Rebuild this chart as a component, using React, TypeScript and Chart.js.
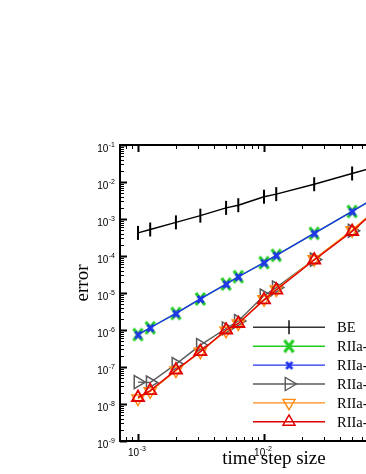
import React, { useEffect, useRef } from "react";
import { Chart, registerables } from "chart.js";
import { drawPoint } from "chart.js/helpers";

Chart.register(...registerables);

// ---- data ----
const stepSizes = [0.001, 0.00125, 0.002, 0.003125, 0.005, 0.00625, 0.01, 0.0125, 0.025, 0.05, 0.1];
const beErr = [4.2e-4, 5.2e-4, 8.1e-4, 1.23e-3, 2.0e-3, 2.36e-3, 4.0e-3, 4.7e-3, 8.7e-3, 1.7e-2, 3.3e-2];
const riiaGreenErr = [7.5e-7, 1.15e-6, 2.8e-6, 6.9e-6, 1.74e-5, 2.75e-5, 6.6e-5, 1.04e-4, 4.1e-4, 1.6e-3, 6.4e-3];
const riiaBlueErr = [7.5e-7, 1.15e-6, 2.8e-6, 6.9e-6, 1.74e-5, 2.75e-5, 6.6e-5, 1.04e-4, 4.1e-4, 1.6e-3, 6.4e-3];
const riiaGrayErr = [3.9e-8, 3.8e-8, 1.2e-7, 3.9e-7, 1.1e-6, 1.75e-6, 8.5e-6, 1.4e-5, 8.0e-5, 4.8e-4, 3.6e-3];
const riiaOrangeErr = [1.4e-8, 2.2e-8, 8.0e-8, 2.6e-7, 0.95e-6, 1.5e-6, 6.8e-6, 1.25e-5, 8.2e-5, 5.0e-4, 3.8e-3];
const riiaRedErr = [1.5e-8, 2.3e-8, 8.3e-8, 2.6e-7, 1.0e-6, 1.5e-6, 6.5e-6, 1.2e-5, 7.8e-5, 4.6e-4, 3.8e-3];
const seriesLabels = ["BE", "RIIa-1", "RIIa-2", "RIIa-3", "RIIa-4", "RIIa-5"];
const yTickExponents = [-1, -2, -3, -4, -5, -6, -7, -8, -9];
const xTickExponents = [-3, -2, -1];
const xAxisTitle = "time step size";
const yAxisTitle = "error";

const COLORS = {
  be: "#000000",
  green: "#1fcc1f",
  blue: "#2233ee",
  gray: "#5a5a5a",
  orange: "#ff8a12",
  red: "#e00000",
};

function makeX(w: number, h: number, lw: number, color: string) {
  const c = document.createElement("canvas");
  c.width = w + lw * 2;
  c.height = h + lw * 2;
  const g = c.getContext("2d")!;
  g.strokeStyle = color;
  g.lineWidth = lw;
  g.beginPath();
  g.moveTo(lw, lw);
  g.lineTo(lw + w, lw + h);
  g.moveTo(lw + w, lw);
  g.lineTo(lw, lw + h);
  g.stroke();
  return c;
}

const pts = (ys: number[]) => stepSizes.map((x, i) => ({ x, y: ys[i] }));

export default function App() {
  const ref = useRef<HTMLCanvasElement | null>(null);

  useEffect(() => {
    const canvas = ref.current!;
    const greenX = makeX(9, 12, 3, COLORS.green);
    const blueX = makeX(6, 7, 2.8, COLORS.blue);

    const styles = [
      { color: COLORS.be, pointStyle: "line", rotation: 90, radius: 7, borderWidth: 2 },
      { color: COLORS.green, pointStyle: greenX, rotation: 0, radius: 7, borderWidth: 3 },
      { color: COLORS.blue, pointStyle: blueX, rotation: 0, radius: 5, borderWidth: 3 },
      { color: COLORS.gray, pointStyle: "triangle", rotation: 90, radius: 7.5, borderWidth: 1.5 },
      { color: COLORS.orange, pointStyle: "triangle", rotation: 180, radius: 7, borderWidth: 1.5 },
      { color: COLORS.red, pointStyle: "triangle", rotation: 0, radius: 7, borderWidth: 1.8 },
    ] as any[];
    const series = [beErr, riiaGreenErr, riiaBlueErr, riiaGrayErr, riiaOrangeErr, riiaRedErr];

    const datasets = series.map((s, i) => ({
      label: seriesLabels[i],
      data: pts(s),
      showLine: true,
      borderColor: styles[i].color,
      backgroundColor: "rgba(0,0,0,0)",
      borderWidth: 1.4,
      pointStyle: styles[i].pointStyle,
      pointRotation: styles[i].rotation,
      pointRadius: styles[i].radius,
      pointBorderWidth: styles[i].borderWidth,
      pointBorderColor: styles[i].color,
      pointBackgroundColor: "rgba(0,0,0,0)",
      order: series.length - i,
    }));

    const decor = {
      id: "decor",
      afterDraw(chart: any) {
        const { ctx, chartArea } = chart;
        const { left, right, top, bottom } = chartArea;
        const xs = chart.scales.x;
        const ys = chart.scales.y;
        ctx.save();
        ctx.strokeStyle = "#000";
        // x ticks
        for (let d = -4; d <= 0; d++) {
          for (let k = 1; k <= 9; k++) {
            const v = k * Math.pow(10, d);
            if (v < xs.min * 0.999 || v > xs.max * 1.001) continue;
            const px = Math.round(xs.getPixelForValue(v)) + 0.5;
            const len = k === 1 ? 7 : 4;
            ctx.lineWidth = k === 1 ? 2 : 1;
            ctx.beginPath();
            ctx.moveTo(px, bottom);
            ctx.lineTo(px, bottom - len);
            ctx.moveTo(px, top);
            ctx.lineTo(px, top + len);
            ctx.stroke();
          }
        }
        // y ticks
        for (let d = -10; d <= 0; d++) {
          for (let k = 1; k <= 9; k++) {
            const v = k * Math.pow(10, d);
            if (v < ys.min * 0.999 || v > ys.max * 1.001) continue;
            const py = Math.round(ys.getPixelForValue(v)) + 0.5;
            const len = k === 1 ? 7 : 4;
            ctx.lineWidth = k === 1 ? 2 : 1;
            ctx.beginPath();
            ctx.moveTo(left, py);
            ctx.lineTo(left + len, py);
            ctx.moveTo(right, py);
            ctx.lineTo(right - len, py);
            ctx.stroke();
          }
        }
        // frame
        ctx.lineWidth = 2;
        ctx.strokeRect(left, top, right - left, bottom - top);

        // tick labels
        ctx.fillStyle = "#000";
        const big = "10px 'Liberation Sans', Arial, sans-serif";
        const small = "7px 'Liberation Sans', Arial, sans-serif";
        yTickExponents.forEach((e) => {
          const py = ys.getPixelForValue(Math.pow(10, e));
          const sup = String(e);
          ctx.font = big;
          const w10 = ctx.measureText("10").width;
          ctx.font = small;
          const ws = ctx.measureText(sup).width;
          const sx = 115 - (w10 + ws + 0.5);
          ctx.textAlign = "left";
          ctx.textBaseline = "alphabetic";
          ctx.font = big;
          ctx.fillText("10", sx, py + 6.5);
          ctx.font = small;
          ctx.fillText(sup, sx + w10 + 0.5, py + 1.5);
        });
        xTickExponents.forEach((e) => {
          const v = Math.pow(10, e);
          if (v > xs.max) return;
          const px = xs.getPixelForValue(v);
          const sup = String(e);
          ctx.font = big;
          const w10 = ctx.measureText("10").width;
          ctx.font = small;
          const ws = ctx.measureText(sup).width;
          const sx = px - 1 - (w10 + ws + 0.5) / 2;
          ctx.textAlign = "left";
          ctx.textBaseline = "alphabetic";
          ctx.font = big;
          ctx.fillText("10", sx, bottom + 14.5);
          ctx.font = small;
          ctx.fillText(sup, sx + w10 + 0.5, bottom + 9.5);
        });

        // axis titles
        ctx.font = "19px 'Liberation Serif', 'Times New Roman', serif";
        ctx.textAlign = "center";
        ctx.textBaseline = "alphabetic";
        ctx.fillText(xAxisTitle, 274, 464);
        ctx.save();
        ctx.translate(88, 283);
        ctx.rotate(-Math.PI / 2);
        ctx.fillText(yAxisTitle, 0, 0);
        ctx.restore();

        // legend
        const lx0 = 253, lx1 = 325, mx = 289, tx = 337, ly0 = 327.3, lstep = 18.9;
        seriesLabels.forEach((lab, i) => {
          const y = ly0 + i * lstep;
          const st = styles[i];
          ctx.strokeStyle = i === 0 ? "#333" : st.color;
          ctx.lineWidth = 1.4;
          ctx.beginPath();
          ctx.moveTo(lx0, y);
          ctx.lineTo(lx1, y);
          ctx.stroke();
          ctx.strokeStyle = st.color;
          ctx.fillStyle = "rgba(0,0,0,0)";
          drawPoint(ctx, { pointStyle: st.pointStyle, rotation: st.rotation, radius: st.radius, borderWidth: st.borderWidth } as any, mx, y);
          ctx.fillStyle = "#000";
          ctx.font = "14.5px 'Liberation Serif', 'Times New Roman', serif";
          ctx.textAlign = "left";
          ctx.textBaseline = "alphabetic";
          ctx.fillText(lab, tx, y + 5);
        });
        ctx.restore();
      },
    };

    const chart = new Chart(canvas, {
      type: "scatter",
      data: { datasets: datasets as any },
      options: {
        responsive: false,
        animation: false,
        devicePixelRatio: 1,
        layout: { padding: { top: 145, right: 12, left: 0, bottom: 0 } },
        plugins: { legend: { display: false }, tooltip: { enabled: false } },
        scales: {
          x: {
            type: "logarithmic",
            min: 7.2e-4,
            max: 0.2,
            ticks: { display: false },
            grid: { display: false },
            border: { display: false },
            afterFit: (s: any) => {
              s.height = 33;
            },
          },
          y: {
            type: "logarithmic",
            min: 1e-9,
            max: 1e-1,
            ticks: { display: false },
            grid: { display: false },
            border: { display: false },
            afterFit: (s: any) => {
              s.width = 120;
            },
          },
        },
      } as any,
      plugins: [decor],
    });
    return () => chart.destroy();
  }, []);

  return (
    <div style={{ position: "absolute", left: 0, top: 0, width: 366, height: 474, overflow: "hidden", background: "#fff" }}>
      <canvas ref={ref} width={440} height={474} style={{ width: 440, height: 474, display: "block" }} />
    </div>
  );
}
